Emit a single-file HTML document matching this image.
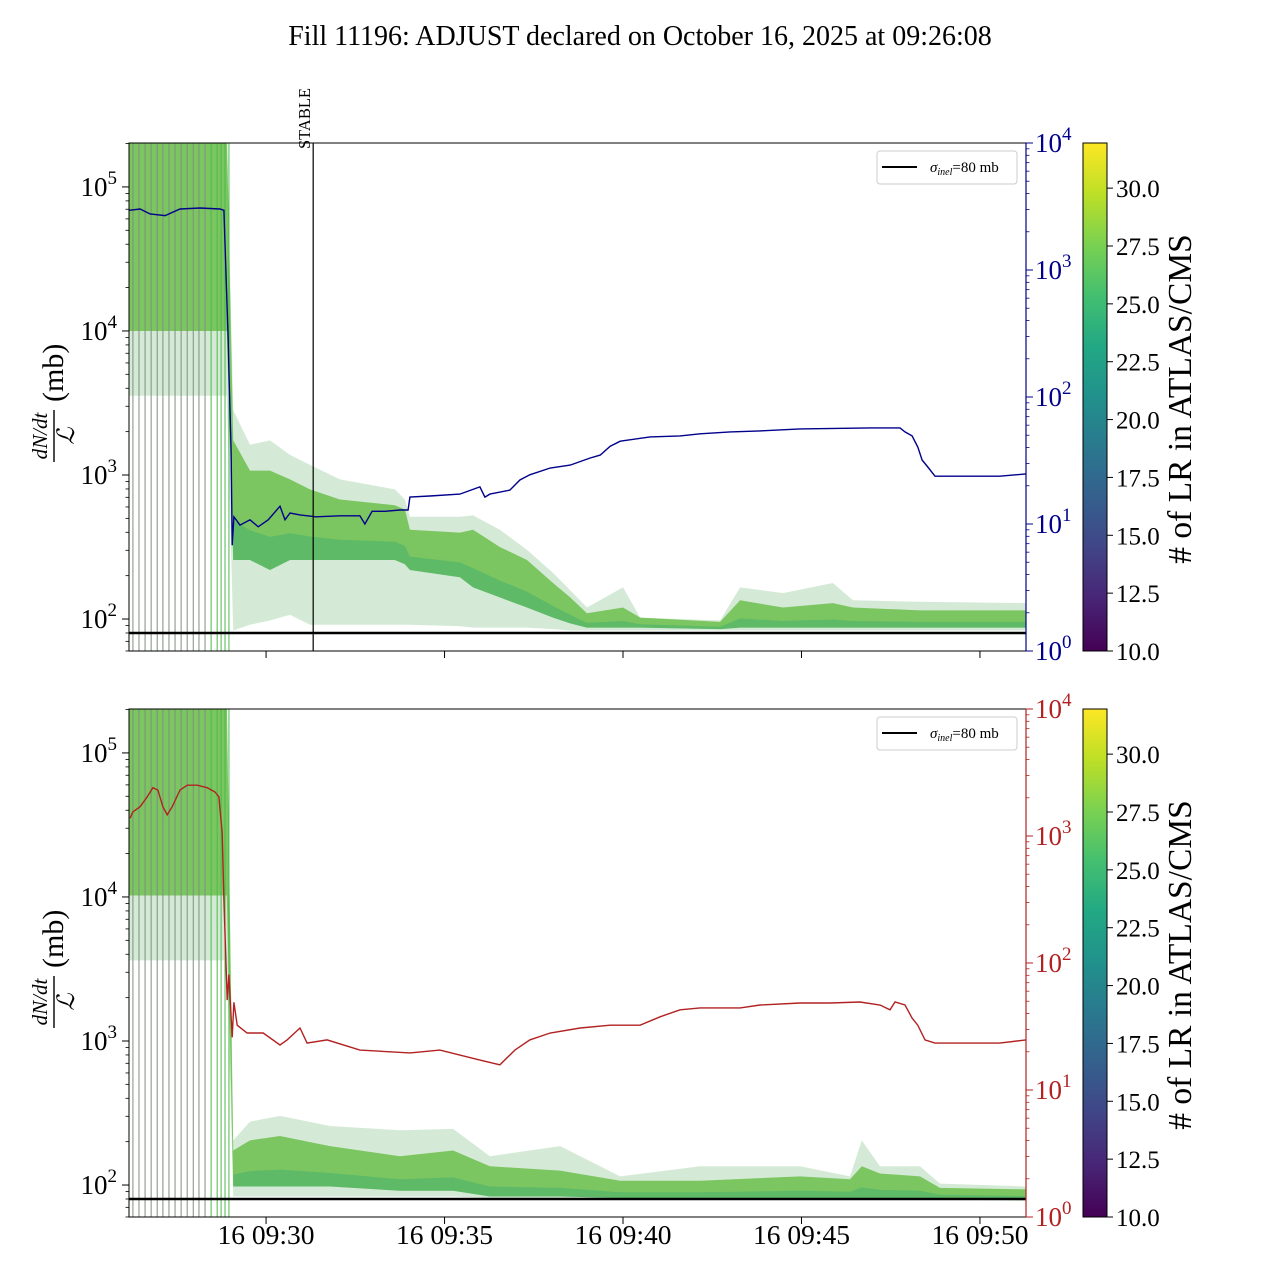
<!DOCTYPE html>
<html><head><meta charset="utf-8"><style>
html,body{margin:0;padding:0;background:#fff;}
svg{display:block;font-family:"Liberation Serif","DejaVu Serif",serif;}
</style></head><body>
<svg id="chart" width="1280" height="1280" viewBox="0 0 1280 1280" xmlns="http://www.w3.org/2000/svg">
<defs>
<linearGradient id="viridis" x1="0" y1="1" x2="0" y2="0">
<stop offset="0" stop-color="#440154"/><stop offset="0.1" stop-color="#482475"/><stop offset="0.2" stop-color="#414487"/><stop offset="0.3" stop-color="#355f8d"/><stop offset="0.4" stop-color="#2a788e"/><stop offset="0.5" stop-color="#21918c"/><stop offset="0.6" stop-color="#22a884"/><stop offset="0.7" stop-color="#44bf70"/><stop offset="0.8" stop-color="#7ad151"/><stop offset="0.9" stop-color="#bddf26"/><stop offset="1" stop-color="#fde725"/>
</linearGradient>
</defs>
<text x="640" y="45" font-size="28" text-anchor="middle">Fill 11196: ADJUST declared on October 16, 2025 at 09:26:08</text>
<g id="top"></g>
<g id="bot"></g>
</svg>
<script>
// ---- shared data ----
// x values: minutes relative to 16 09:30:00
const xTickMinutes = [0, 5, 10, 15, 20];
const xTickLabels = ["16 09:30", "16 09:35", "16 09:40", "16 09:45", "16 09:50"];
const xMin = -3.84, xMax = 21.29;
const sigmaInel = 80;
const stableMinute = 1.32;
const lumiLineMinutes = [-3.73,-3.56,-3.39,-3.22,-3.05,-2.89,-2.72,-2.55,-2.38,-2.21,-2.04,-1.88,-1.71,-1.54,-1.37,-1.26,-1.15,-1.04];
const cbarTicks = [10.0,12.5,15.0,17.5,20.0,22.5,25.0,27.5,30.0];
const cbarMin = 10, cbarMax = 31.95;

// top panel: blue series (right axis)
const blueT = [-3.84,-3.53,-3.25,-2.83,-2.41,-1.85,-1.29,-1.18,-1.06,-1.04,-0.98,-0.95,-0.90,-0.73,-0.45,-0.22,0.06,0.39,0.53,0.67,0.95,1.40,2.07,2.63,2.77,2.97,3.33,3.75,3.98,4.03,4.59,5.43,5.99,6.13,6.27,6.83,7.11,7.39,7.96,8.52,9.08,9.36,9.64,9.92,10.76,11.60,12.16,13.00,13.84,14.96,16.92,17.76,17.90,18.10,18.26,18.38,18.54,18.74,19.44,20.56,21.29];
const blueV = [2950,3020,2760,2680,3020,3080,3020,2950,280,163,38,6.8,11.4,9.8,10.8,9.5,10.8,13.8,10.8,12.2,11.8,11.4,11.6,11.6,10.0,12.6,12.6,12.9,12.9,16.3,16.6,17.2,19.6,16.3,17.2,18.5,22.2,24.4,27.6,29.1,33.1,34.9,41.0,44.9,48.5,49.4,51.3,53.1,54.1,56.1,57.1,57.1,53.1,49.4,40.4,31.9,28.1,23.8,23.8,23.8,24.8];

// bottom panel: red series (right axis)
const redT = [-3.81,-3.73,-3.53,-3.33,-3.17,-3.03,-2.89,-2.77,-2.63,-2.41,-2.21,-1.93,-1.65,-1.43,-1.32,-1.23,-1.18,-1.09,-1.04,-0.95,-0.90,-0.81,-0.53,-0.08,0.39,0.59,0.95,1.15,1.71,2.63,4.03,4.87,5.99,6.55,6.97,7.39,7.96,8.80,9.64,10.48,11.04,11.60,12.16,13.28,13.84,14.96,15.80,16.64,17.20,17.48,17.62,17.90,18.10,18.26,18.46,18.74,20.56,21.29];
const redV = [1380,1550,1700,2030,2400,2300,1700,1470,1700,2300,2510,2510,2400,2220,2030,1050,315,51,81,26,49,32.4,28.1,28.1,22.6,24.8,30.8,23.4,24.8,20.6,19.6,20.6,17.2,15.8,20.6,24.8,28.1,30.8,32.4,32.4,37.7,42.8,44.3,44.3,46.7,48.4,48.4,49.3,46.7,42.8,49.3,46.7,36.8,32.4,24.8,23.4,23.4,24.8];

// band envelopes (log10 of dN/dt / L in mb)
const topBandT = [-3.84,-1.10,-0.92,-0.45,0.11,0.67,1.23,2.07,3.61,3.89,4.03,5.43,5.80,6.55,7.31,8.04,8.52,8.99,10.00,10.48,12.72,13.28,14.48,15.88,16.44,18.32,21.29];
const topHiLog = [5.4,5.4,3.45,3.21,3.24,3.14,3.07,2.97,2.90,2.83,2.71,2.71,2.72,2.62,2.48,2.32,2.20,2.08,2.22,2.01,1.99,2.22,2.18,2.25,2.13,2.12,2.11];
const topCoreHiLog = [5.4,5.4,3.24,3.03,3.03,2.97,2.90,2.83,2.79,2.76,2.62,2.60,2.62,2.50,2.41,2.25,2.15,2.04,2.08,2.01,1.98,2.13,2.08,2.11,2.08,2.06,2.06];
const topCoreLoLog = [4.0,4.0,2.41,2.41,2.34,2.41,2.41,2.41,2.41,2.38,2.34,2.29,2.22,2.15,2.08,2.01,1.97,1.94,1.94,1.94,1.93,1.94,1.94,1.94,1.94,1.94,1.94];
const topLoLog = [3.55,3.55,1.92,1.96,1.99,2.03,1.96,1.96,1.96,1.96,1.96,1.95,1.94,1.94,1.94,1.93,1.92,1.92,1.92,1.92,1.92,1.92,1.92,1.92,1.92,1.92,1.92];

const botBandT = [-3.84,-1.10,-0.92,-0.45,0.39,1.79,3.75,5.24,6.27,8.24,9.92,12.16,14.96,16.36,16.69,17.20,18.32,18.88,21.29];
const botHiLog = [5.4,5.4,2.31,2.44,2.48,2.41,2.38,2.39,2.20,2.27,2.06,2.13,2.13,2.06,2.31,2.13,2.13,2.01,1.99];
const botCoreHiLog = [5.4,5.4,2.24,2.31,2.34,2.27,2.20,2.24,2.13,2.10,2.03,2.03,2.06,2.04,2.13,2.08,2.06,1.98,1.97];
const botCoreLoLog = [4.01,4.01,1.99,1.99,1.99,1.99,1.96,1.96,1.92,1.92,1.91,1.91,1.91,1.91,1.91,1.91,1.91,1.91,1.90];
const botLoLog = [3.56,3.56,1.92,1.92,1.92,1.92,1.92,1.92,1.91,1.91,1.90,1.90,1.90,1.90,1.90,1.90,1.90,1.90,1.89];

const NS = "http://www.w3.org/2000/svg";
function mk(parent, tag, attrs){ const e=document.createElementNS(NS,tag); for(const k in attrs) e.setAttribute(k,attrs[k]); parent.appendChild(e); return e; }

const X0=129, X1=1026;
function xs(m){ return X0 + (m - xMin)/(xMax - xMin)*(X1-X0); }

function panel(g, top, bandT, hi, coreHi, coreLo, lo, lineT, lineV, lineColor, showXLabels, showStable, tag){
  const bottom = top + 508;
  const logMin = 1.778, logMax = 5.305;
  const yL = v => bottom - (Math.log10(v) - logMin)/(logMax-logMin)*508;
  const yLL = l => bottom - (l - logMin)/(logMax-logMin)*508;
  const yR = v => bottom - Math.log10(v)/4*508;
  const clip = mk(g,'clipPath',{id:'clip'+tag});
  mk(clip,'rect',{x:X0,y:top,width:X1-X0,height:508});
  const plot = mk(g,'g',{'clip-path':'url(#clip'+tag+')'});
  
  
  function poly(a,b,fill,op,name,start){
    start = start||0;
    let pts=[];
    for(let i=start;i<bandT.length;i++) pts.push(xs(bandT[i])+','+yLL(a[i]));
    for(let i=bandT.length-1;i>=start;i--) pts.push(xs(bandT[i])+','+yLL(b[i]));
    const p = mk(plot,'polygon',{points:pts.join(' '),fill:fill,'fill-opacity':op});
    
    
  }
  poly(hi, lo, '#9fd0a4', 0.45, tag+'-band-envelope');
  poly(coreHi, coreLo, '#6cbf4c', 0.85, tag+'-band-core');
  const mid = coreHi.map((h,i)=> (h+coreLo[i]*2)/3);
  poly(mid, coreLo, '#3fae6e', 0.5, tag+'-band-lower', 2);
  // vertical lumi lines
  lumiLineMinutes.forEach((m,i)=>{
    const l = mk(plot,'line',{x1:xs(m),x2:xs(m),y1:top,y2:bottom,stroke: i>=13?'#4cb84a':'#7f8f7f','stroke-width':1});
    
    
  });
  const sl = mk(plot,'line',{x1:X0,x2:X1,y1:yL(sigmaInel),y2:yL(sigmaInel),stroke:'#000','stroke-width':2.5});
  
  
  const pts = lineT.map((t,i)=> xs(t).toFixed(1)+','+yR(lineV[i]).toFixed(1)).join(' ');
  const pl = mk(plot,'polyline',{points:pts,fill:'none',stroke:lineColor,'stroke-width':1.4});
  
  
  if(showStable){
    const s = mk(g,'line',{x1:xs(stableMinute),x2:xs(stableMinute),y1:top,y2:bottom,stroke:'#000','stroke-width':1.2});
    
    
    const st = mk(g,'text',{x:0,y:0,'font-size':16.5,transform:'translate('+(xs(stableMinute)-3)+','+(top+6)+') rotate(-90)'});
    st.textContent='STABLE';
    
    
  }
  const fr = mk(g,'rect',{x:X0,y:top,width:X1-X0,height:508,fill:'none',stroke:'#000','stroke-width':1});
  
  
  mk(g,'line',{x1:X1,x2:X1,y1:top,y2:bottom,stroke:lineColor,'stroke-width':1.2});
  for(let d=1; d<=5; d++){
    for(let k=1;k<=9;k++){
      const v = k*Math.pow(10,d);
      const y=yL(v); if(y<top-0.5||y>bottom+0.5) continue;
      mk(g,'line',{x1:X0,x2:X0-(k==1?7:3.5),y1:y,y2:y,stroke:'#000','stroke-width':k==1?1:0.8});
      if(k==1){
        const t=mk(g,'text',{x:X0-12,y:y+9,'font-size':27,'text-anchor':'end'});
        
        
        t.innerHTML='10<tspan dy="-12" font-size="19">'+d+'</tspan>';
      }
    }
  }
  for(let d=0; d<=4; d++){
    for(let k=1;k<=9;k++){
      if(d==4&&k>1) break;
      const v=k*Math.pow(10,d); const y=yR(v);
      mk(g,'line',{x1:X1,x2:X1+(k==1?7:3.5),y1:y,y2:y,stroke:lineColor,'stroke-width':k==1?1:0.8});
      if(k==1){
        const t=mk(g,'text',{x:X1+9,y:y+9,'font-size':27,fill:lineColor});
        
        
        t.innerHTML='10<tspan dy="-12" font-size="19">'+d+'</tspan>';
      }
    }
  }
  xTickMinutes.forEach((m,i)=>{
    mk(g,'line',{x1:xs(m),x2:xs(m),y1:bottom,y2:bottom+7,stroke:'#000','stroke-width':1});
    if(showXLabels){
      const t=mk(g,'text',{x:xs(m),y:bottom+27,'font-size':27.5,'text-anchor':'middle'});
      t.textContent=xTickLabels[i];
      
      
    }
  });
  const yl = mk(g,'g',{transform:'translate(53,'+(top+293)+') rotate(-90)'});
  
  
  mk(yl,'text',{x:0,y:-6,'font-size':21,'font-style':'italic','text-anchor':'middle'}).textContent='dN/dt';
  mk(yl,'line',{x1:-26,x2:26,y1:1,y2:1,stroke:'#000','stroke-width':1.4});
  mk(yl,'text',{x:0,y:21,'font-size':24,'font-style':'italic','text-anchor':'middle'}).textContent='ℒ';
  mk(yl,'text',{x:34,y:10,'font-size':30}).textContent='(mb)';
  const lg = mk(g,'g',{});
  
  
  mk(lg,'rect',{x:877,y:top+8,width:140,height:33,rx:3,fill:'#fff','fill-opacity':0.85,stroke:'#ccc','stroke-width':1});
  mk(lg,'line',{x1:882,x2:917,y1:top+24,y2:top+24,stroke:'#000','stroke-width':2});
  const lt = mk(lg,'text',{x:930,y:top+29,'font-size':15});
  lt.innerHTML='<tspan font-style="italic">σ</tspan><tspan font-style="italic" font-size="10" dy="3">inel</tspan><tspan dy="-3">=80 mb</tspan>';
  const cb = mk(g,'g',{});
  
  
  mk(cb,'rect',{x:1083,y:top,width:24,height:508,fill:'url(#viridis)',stroke:'#000','stroke-width':1});
  const cy = v => bottom - (v-cbarMin)/(cbarMax-cbarMin)*508;
  cbarTicks.forEach(v=>{
    mk(cb,'line',{x1:1107,x2:1113,y1:cy(v),y2:cy(v),stroke:'#000'});
    const t=mk(cb,'text',{x:1116,y:cy(v)+9,'font-size':25});
    t.textContent=v.toFixed(1);
    
    
  });
  const ct = mk(cb,'text',{x:0,y:0,'font-size':33.5,'text-anchor':'middle',transform:'translate(1191,'+(top+256)+') rotate(-90)'});
  ct.textContent='# of LR in ATLAS/CMS';
  
  
}

panel(document.getElementById('top'), 143, topBandT, topHiLog, topCoreHiLog, topCoreLoLog, topLoLog, blueT, blueV, '#00008b', false, true, 'top');
panel(document.getElementById('bot'), 709, botBandT, botHiLog, botCoreHiLog, botCoreLoLog, botLoLog, redT, redV, '#b22222', true, false, 'bottom');
</script>
</body></html>
